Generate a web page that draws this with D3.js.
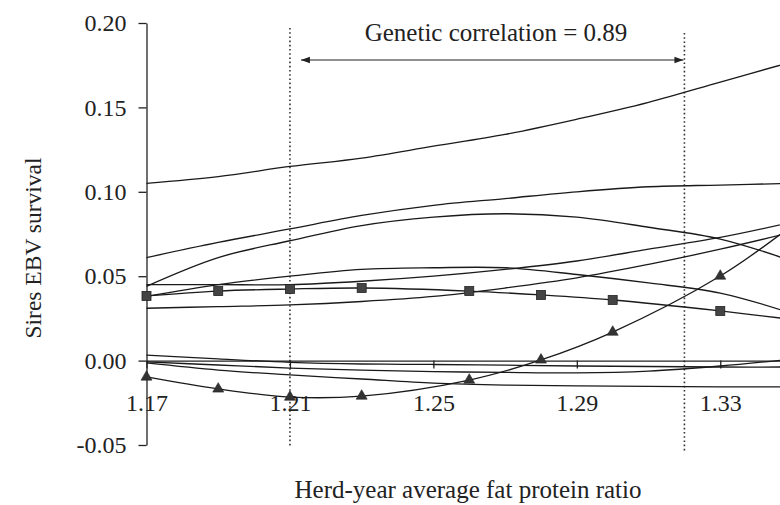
<!DOCTYPE html>
<html>
<head>
<meta charset="utf-8">
<script src="https://d3js.org/d3.v7.min.js"></script>
<style>
  body { margin: 0; background: #fff; }
  svg { display: block; }
  text { font-family: "Liberation Serif", "Times New Roman", serif; fill: #222; }
</style>
</head>
<body>
<div id="chart"></div>
<script>
// sire curves, read at a common grid of fat/protein ratios
var gridX = [1.17, 1.19, 1.21, 1.23, 1.25, 1.27, 1.29, 1.31, 1.33, 1.35];
var sire1 = [0.105, 0.109, 0.115, 0.120, 0.127, 0.134, 0.143, 0.153, 0.165, 0.177];
var sire2 = [0.061, 0.070, 0.078, 0.086, 0.092, 0.096, 0.100, 0.103, 0.104, 0.105];
var sire3 = [0.044, 0.061, 0.071, 0.080, 0.085, 0.087, 0.085, 0.079, 0.072, 0.059];
var sire4 = [0.038, 0.045, 0.050, 0.054, 0.055, 0.055, 0.051, 0.046, 0.040, 0.028];
var sire5 = [0.045, 0.045, 0.045, 0.047, 0.050, 0.054, 0.059, 0.066, 0.073, 0.082];
var sire6 = [0.031, 0.032, 0.033, 0.035, 0.038, 0.043, 0.049, 0.057, 0.066, 0.076];
var sire7 = [0.0033, 0.0010, -0.0010, -0.0020, -0.0023, -0.0027, -0.0032, -0.0035, -0.0038, -0.0038];
var sire8 = [-0.0008, -0.0026, -0.0044, -0.0056, -0.0065, -0.0070, -0.0073, -0.0062, -0.0032, 0.0009];
var sire9 = [-0.0014, -0.0056, -0.0085, -0.0109, -0.0133, -0.0145, -0.0150, -0.0153, -0.0156, -0.0156];

// the two highlighted sires (last point is where the line leaves the frame, no marker)
var markerX = [1.17, 1.19, 1.21, 1.23, 1.26, 1.28, 1.30, 1.33, 1.35];
var squareSire = [0.0383, 0.0412, 0.0424, 0.0430, 0.0412, 0.0389, 0.0359, 0.0294, 0.0244];
var triangleSire = [-0.0097, -0.0168, -0.0216, -0.0210, -0.0115, 0.0004, 0.0169, 0.0501, 0.080];
var nMarkers = 8;

var xTicks = [1.17, 1.21, 1.25, 1.29, 1.33];
var yTicks = [-0.05, 0, 0.05, 0.10, 0.15, 0.20];
var bandX = [1.21, 1.32];
var note = "Genetic correlation = 0.89";

drawChart();

function drawChart() {
    var w = 780;
    var h = 505;

    var x = d3.scaleLinear().domain([1.17, 1.35]).range([146.5, 792]);
    var y = d3.scaleLinear().domain([-0.05, 0.20]).range([445, 23]);

    var svg = d3.select("#chart")
                .append("svg")
                .attr("width", w)
                .attr("height", h);

    svg.append("rect").attr("width", w).attr("height", h).attr("fill", "#fff");

    // dotted band limits
    svg.selectAll("line.band")
       .data(bandX)
       .enter()
       .append("line")
       .attr("class", "band")
       .attr("x1", function (d) { return x(d); })
       .attr("x2", function (d) { return x(d); })
       .attr("y1", function (d, i) { return i == 0 ? 28 : 33; })
       .attr("y2", function (d, i) { return i == 0 ? 448 : 452; })
       .attr("stroke", "#333")
       .attr("stroke-width", 1.6)
       .attr("stroke-dasharray", "1.6,2.6");

    // arrow between the limits
    var ay = 60;
    var ax1 = x(bandX[0]) + 11;
    var ax2 = x(bandX[1]) - 1;
    svg.append("line")
       .attr("x1", ax1).attr("x2", ax2)
       .attr("y1", ay).attr("y2", ay)
       .attr("stroke", "#222").attr("stroke-width", 1.2);
    svg.append("path")
       .attr("d", "M" + ax1 + "," + ay + "l9,-3.2l0,6.4z")
       .attr("fill", "#222");
    svg.append("path")
       .attr("d", "M" + ax2 + "," + ay + "l-9,-3.2l0,6.4z")
       .attr("fill", "#222");

    svg.append("text")
       .attr("x", 496)
       .attr("y", 41)
       .attr("text-anchor", "middle")
       .style("font-size", "25px")
       .text(note);

    // axes
    var xAxis = d3.axisBottom(x)
                  .tickValues(xTicks)
                  .tickSize(8)
                  .tickSizeOuter(0)
                  .tickPadding(25)
                  .tickFormat(function (d) { return d.toFixed(2); });
    var gx = svg.append("g")
                .attr("transform", "translate(0," + y(0) + ")")
                .call(xAxis);

    var yAxis = d3.axisLeft(y)
                  .tickValues(yTicks)
                  .tickSize(8)
                  .tickSizeOuter(0)
                  .tickPadding(12)
                  .tickFormat(function (d) { return d.toFixed(2); });
    var gy = svg.append("g")
                .attr("transform", "translate(" + x(1.17) + ",0)")
                .call(yAxis);

    [gx, gy].forEach(function (g) {
        g.selectAll("path, line").attr("stroke", "#222").attr("stroke-width", 1.3);
        g.selectAll("text")
         .style("font-size", "24px")
         .style("font-family", "'Liberation Serif', 'Times New Roman', serif")
         .attr("fill", "#222");
    });

    var line = d3.line()
                 .x(function (d) { return x(d[0]); })
                 .y(function (d) { return y(d[1]); })
                 .curve(d3.curveCatmullRom.alpha(0.5));

    var curves = [sire1, sire2, sire3, sire4, sire5, sire6, sire7, sire8, sire9];
    svg.selectAll("path.sire")
       .data(curves)
       .enter()
       .append("path")
       .attr("class", "sire")
       .attr("fill", "none")
       .attr("stroke", "#1a1a1a")
       .attr("stroke-width", 1.3)
       .attr("d", function (d) {
           return line(gridX.map(function (gxv, i) { return [gxv, d[i]]; }));
       });

    var marked = [squareSire, triangleSire];
    svg.selectAll("path.marked")
       .data(marked)
       .enter()
       .append("path")
       .attr("class", "marked")
       .attr("fill", "none")
       .attr("stroke", "#1a1a1a")
       .attr("stroke-width", 1.3)
       .attr("d", function (d) {
           return line(markerX.map(function (mx, i) { return [mx, d[i]]; }));
       });

    var pts = markerX.slice(0, nMarkers);

    svg.selectAll("rect.sq")
       .data(pts)
       .enter()
       .append("rect")
       .attr("class", "sq")
       .attr("x", function (d) { return x(d) - 4.5; })
       .attr("y", function (d, i) { return y(squareSire[i]) - 4.5; })
       .attr("width", 9)
       .attr("height", 9)
       .attr("fill", "#444")
       .attr("stroke", "#222")
       .attr("stroke-width", 0.8);

    svg.selectAll("path.tri")
       .data(pts)
       .enter()
       .append("path")
       .attr("class", "tri")
       .attr("transform", function (d, i) {
           return "translate(" + x(d) + "," + y(triangleSire[i]) + ")";
       })
       .attr("d", d3.symbol().type(d3.symbolTriangle).size(52))
       .attr("fill", "#333")
       .attr("stroke", "#222")
       .attr("stroke-width", 0.6);

    // axis titles
    svg.append("text")
       .attr("transform", "translate(41,248) rotate(-90)")
       .attr("text-anchor", "middle")
       .style("font-size", "23.5px")
       .text("Sires EBV survival");

    svg.append("text")
       .attr("x", 468)
       .attr("y", 498)
       .attr("text-anchor", "middle")
       .style("font-size", "25px")
       .text("Herd-year average fat protein ratio");
}
</script>
</body>
</html>
